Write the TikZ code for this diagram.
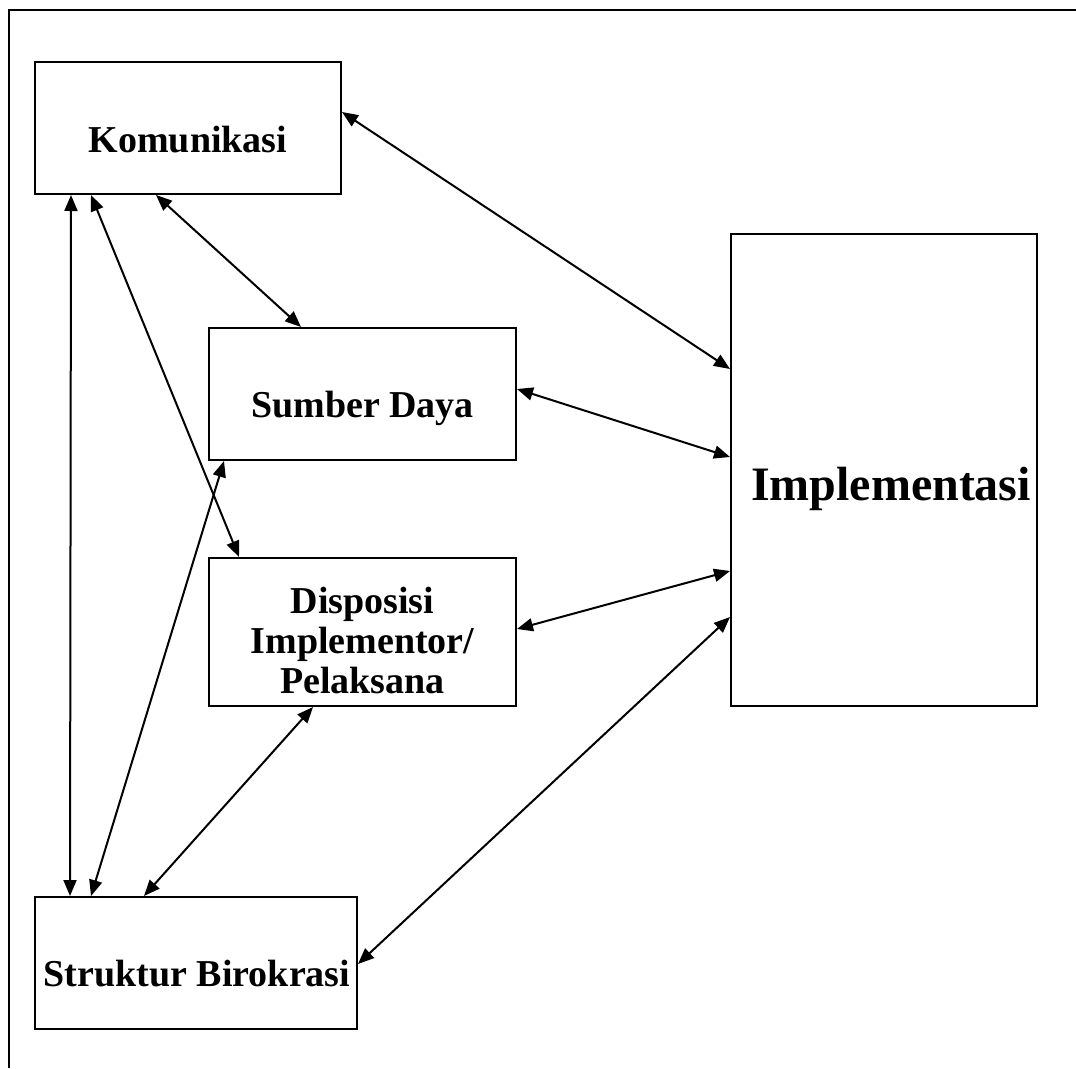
\documentclass[tikz,border=0pt]{standalone}
\usepackage{fontspec}
\setmainfont{Liberation Serif}
\usetikzlibrary{arrows.meta,calc}
\tikzset{
  box/.style={draw, line width=2pt, inner sep=0pt, rectangle},
  lbl/.style={font=\bfseries\fontsize{38}{40}\selectfont, inner sep=0pt, align=center},
  biglbl/.style={font=\bfseries\fontsize{48}{52}\selectfont, inner sep=0pt},
  link/.style={line width=2pt, {Triangle[length=16pt,width=13pt]}-{Triangle[length=16pt,width=13pt]}},
  frame/.style={line width=2pt}
}
\begin{document}
\begin{tikzpicture}[x=1pt,y=-1pt]
\useasboundingbox (0,0) rectangle (1076,1068);
\fill[white] (0,0) rectangle (1076,1068);
\draw[frame] (9,1068) -- (9,10) -- (1076,10);
% boxes
\node[box, minimum width=306pt, minimum height=132pt] (kom) at (188,128) {};
\node[box, minimum width=307pt, minimum height=132pt] (sum) at (362.5,394) {};
\node[box, minimum width=307pt, minimum height=148pt] (dis) at (362.5,632) {};
\node[box, minimum width=322pt, minimum height=132pt] (str) at (196,963) {};
\node[box, minimum width=306pt, minimum height=472pt] (imp) at (884,470) {};
% labels
\node[lbl, anchor=base] (komt) at (188,152) {Komunikasi};
\node[lbl, anchor=base] (sumt) at (362.5,417) {Sumber Daya};
\node[lbl, anchor=center] (dist) at (362.5,640) {Disposisi\\Implementor/\\Pelaksana};
\node[lbl, anchor=base] (strt) at (197,986) {Struktur Birokrasi};
\node[biglbl, anchor=base] (impt) at (891,500) {Implementasi};
% connectors
\draw[link] ($(kom.north east)+(0,51)$) -- ($(imp.north west)+(0,136)$);
\draw[link] ($(kom.south west)+(122,0)$) -- ($(sum.north west)+(93,0)$);
\draw[link] ($(kom.south west)+(37,0)$) -- ($(str.north west)+(36,0)$);
\draw[link] ($(kom.south west)+(57,0)$) -- ($(dis.north west)+(31,0)$);
\draw[link] ($(sum.south west)+(16,0)$) -- ($(str.north west)+(57,0)$);
\draw[link] ($(sum.north east)+(0,62)$) -- ($(imp.north west)+(0,224)$);
\draw[link] ($(dis.north east)+(0,72)$) -- ($(imp.north west)+(0,338)$);
\draw[link] ($(dis.south west)+(105,0)$) -- ($(str.north west)+(110,0)$);
\draw[link] ($(imp.north west)+(0,384)$) -- ($(str.north east)+(0,68)$);
\end{tikzpicture}
\end{document}
